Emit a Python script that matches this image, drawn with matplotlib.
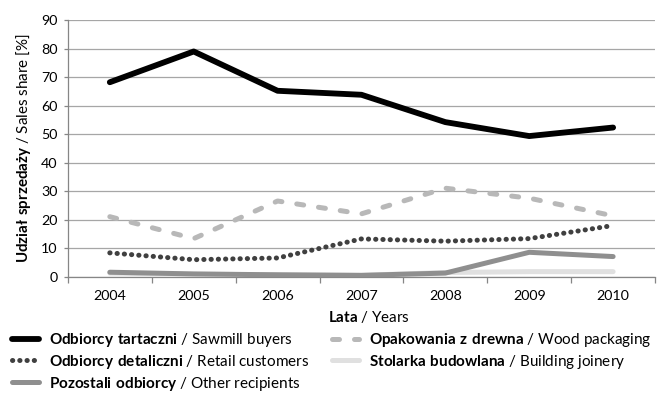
import numpy as np
import matplotlib
matplotlib.use("Agg")
import matplotlib.pyplot as plt
from matplotlib.ticker import FixedLocator

plt.rcParams['font.family'] = ['Lato', 'DejaVu Sans']
plt.rcParams['mathtext.fontset'] = 'custom'
plt.rcParams['mathtext.rm'] = 'Lato'
plt.rcParams['mathtext.bf'] = 'Lato:bold'

years = ['2004', '2005', '2006', '2007', '2008', '2009', '2010']
sawmill = [68.2, 79.0, 65.2, 63.8, 54.2, 49.3, 52.3]
packaging = [21.0, 13.3, 26.5, 22.0, 31.0, 27.5, 21.3]
retail = [8.3, 5.9, 6.5, 13.2, 12.4, 13.3, 17.9]
joinery = [1.2, 0.8, 0.6, 0.4, 1.4, 1.7, 1.7]
other = [1.5, 0.9, 0.6, 0.4, 1.2, 8.5, 7.0]

lab_sawmill = r'$\mathbf{Odbiorcy\ tartaczni}$ / Sawmill buyers'
lab_packaging = r'$\mathbf{Opakowania\ z\ drewna}$ / Wood packaging'
lab_retail = r'$\mathbf{Odbiorcy\ detaliczni}$ / Retail customers'
lab_joinery = r'$\mathbf{Stolarka\ budowlana}$ / Building joinery'
lab_other = r'$\mathbf{Pozostali\ odbiorcy}$ / Other recipients'

fig = plt.figure(figsize=(6.59, 3.95), dpi=100)
ax = fig.add_axes([0.103, 0.300, 0.891, 0.649])

x = np.arange(len(years))
l1, = ax.plot(x, sawmill, color='black', lw=4.2, solid_capstyle='round', zorder=5)
l2, = ax.plot(x, packaging, color='#b8b8b8', lw=3.6, dashes=(1.4, 3.0),
              dash_capstyle='round', zorder=4)
l3, = ax.plot(x, retail, color='#404040', lw=3.6, linestyle=(0, (0.05, 1.4)),
              dash_capstyle='round', zorder=4)
l4, = ax.plot(x, joinery, color='#e0e0e0', lw=3.6, solid_capstyle='round', zorder=3)
l5, = ax.plot(x, other, color='#8f8f8f', lw=3.6, solid_capstyle='round', zorder=3.5)

ax.set_xlim(-0.5, len(years) - 0.5)
ax.set_ylim(0, 90)
ax.set_yticks(np.arange(0, 91, 10))
ax.set_xticks(x)
ax.set_xticklabels(years, fontsize=10.3)
ax.xaxis.set_minor_locator(FixedLocator(np.arange(-0.5, len(years), 1)))
ax.tick_params(axis='x', which='major', length=0, pad=9.5)
ax.tick_params(axis='x', which='minor', length=4, color='#868686', width=0.9)
ax.tick_params(axis='y', length=3, color='#868686', width=0.9, labelsize=10.3, pad=4.5)
ax.grid(axis='y', color='#a6a6a6', lw=0.9)
ax.set_axisbelow(True)
for s in ['top', 'right']:
    ax.spines[s].set_visible(False)
for s in ['left', 'bottom']:
    ax.spines[s].set_color('#868686')
    ax.spines[s].set_linewidth(0.9)

ax.set_ylabel(r'$\mathbf{Udział\ sprzedaży}$ / Sales share [%]', fontsize=10.9, labelpad=6)
ax.set_xlabel(r'$\mathbf{Lata}$ / Years', fontsize=10.9, labelpad=3)
ax.xaxis.set_label_coords(0.513, -0.125)

fig.legend([l1, l3, l5, l2, l4], [lab_sawmill, lab_retail, lab_other, lab_packaging, lab_joinery],
           ncol=2, loc='upper left', bbox_to_anchor=(0.018, 0.162), frameon=False,
           fontsize=11, handlelength=1.8, handletextpad=0.65, columnspacing=1.45,
           labelspacing=0.25, borderaxespad=0, borderpad=0)

fig.savefig('out.png', dpi=100)
